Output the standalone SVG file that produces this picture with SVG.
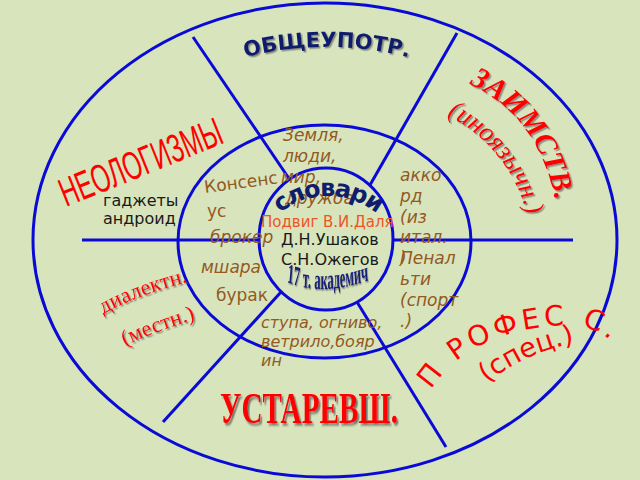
<svg xmlns="http://www.w3.org/2000/svg" width="640" height="480" viewBox="0 0 640 480">
<defs>
<style>
.ln{fill:none;stroke:#0a0ad6;stroke-width:3}
.bi{font-family:"DejaVu Sans",sans-serif;font-style:italic;fill:#93591f;font-size:17px}
.bu{font-family:"DejaVu Sans",sans-serif;fill:#93591f;font-size:17px}
.bk{font-family:"DejaVu Sans",sans-serif;fill:#1a1a1a;font-size:16px}
.nv{font-family:"DejaVu Sans",sans-serif;font-weight:bold;fill:#101c6c}
.rs{font-family:"DejaVu Sans",sans-serif;fill:#ff0000}
.rser{font-family:"Liberation Serif",serif;fill:#ff0000}
</style>
<filter id="sh" x="-20%" y="-20%" width="140%" height="140%">
<feDropShadow dx="1.5" dy="1.5" stdDeviation="0.7" flood-color="#666" flood-opacity="0.7"/>
</filter>
<filter id="sh2" x="-20%" y="-20%" width="140%" height="140%">
<feDropShadow dx="2.5" dy="2.5" stdDeviation="1" flood-color="#555" flood-opacity="0.75"/>
</filter>
<path id="pObs" d="M 235,60 Q 327,34 419,60"/>
<path id="pSlov" d="M 252,272 A 76,76 0 0 1 404,272"/>
<path id="pZaim" d="M 469,84 Q 540,116 557,208"/>
<path id="pIno" d="M 447,115 Q 515,150 531,230"/>
<path id="pProf" d="M 431,390 C 452,356 490,335 535,328 C 570,323 596,322 620,350"/>
<path id="pSpec" d="M 487,383 Q 528,350 582,342"/>
<path id="pDial" d="M 103,314 Q 142,293 192,281"/>
<path id="pMest" d="M 125,346 Q 158,330 200,318"/>
<path id="pAkad" d="M 637.8,282 Q 722,298 831.1,278"/>
</defs>
<rect x="0" y="0" width="640" height="480" fill="#d8e4bc"/>

<g id="connectors">
<ellipse class="ln" cx="325" cy="240" rx="292" ry="237"/>
<ellipse class="ln" cx="324.5" cy="241.5" rx="146.5" ry="116.5"/>
<ellipse class="ln" cx="326" cy="239" rx="67" ry="71"/>
<path class="ln" d="M82,240 H259"/>
<path class="ln" d="M393,240 H573"/>
<path class="ln" d="M193,37 L290,180"/>
<path class="ln" d="M457,33 L370,185"/>
<path class="ln" d="M281,292 L163,422"/>
<path class="ln" d="M357,302 L446,447"/>
</g>

<g id="obshcheupotr">
<text class="nv" font-size="21" filter="url(#sh)"><textPath href="#pObs" startOffset="50%" text-anchor="middle">ОБЩЕУПОТР.</textPath></text>
</g>

<g id="neologizmy">
<text class="rs" font-size="40" transform="translate(66,207) rotate(-22) scale(0.6,1)" style="font-family:'Liberation Sans',sans-serif">НЕОЛОГИЗМЫ</text>
<text class="bk" x="103" y="206">гаджеты</text>
<text class="bk" x="103" y="224">андроид</text>
</g>

<g id="zaimstv">
<text class="rser" font-size="30" font-weight="bold" font-style="italic" filter="url(#sh)"><textPath href="#pZaim">ЗАИМСТВ.</textPath></text>
<text class="rser" font-size="27" font-style="italic" filter="url(#sh)"><textPath href="#pIno">(иноязычн.)</textPath></text>
<text class="bi" x="400" y="181">акко</text>
<text class="bi" x="400" y="202">рд</text>
<text class="bi" x="400" y="223">(из</text>
<text class="bi" x="400" y="243">итал.</text>
<text class="bi" x="400" y="264">)</text>
<text class="bi" x="400" y="264">Пенал</text>
<text class="bi" x="400" y="285">ьти</text>
<text class="bi" x="400" y="306">(спорт</text>
<text class="bi" x="400" y="327">.)</text>
</g>

<g id="profess">
<text class="rs" font-size="28" letter-spacing="4"><textPath href="#pProf">П РОФЕС С.</textPath></text>
<text class="rs" font-size="27"><textPath href="#pSpec">(спец.)</textPath></text>
</g>

<g id="ustarevsh">
<text class="rser" font-size="45" font-weight="bold" transform="translate(220,423) scale(0.65,1)" filter="url(#sh2)">УСТАРЕВШ.</text>
<text class="bi" x="261" y="328" style="font-size:16px">ступа, огниво,</text>
<text class="bi" x="261" y="347" style="font-size:16px">ветрило,бояр</text>
<text class="bi" x="261" y="366" style="font-size:16px">ин</text>
</g>

<g id="dialektn">
<text class="rser" font-size="22" filter="url(#sh)"><textPath href="#pDial">диалектн.</textPath></text>
<text class="rser" font-size="22" filter="url(#sh)"><textPath href="#pMest">(местн.)</textPath></text>
<text class="bi" x="210" y="243">брокер</text>
<text class="bi" x="201" y="273">мшара</text>
<text class="bu" x="216" y="301">бурак</text>
</g>

<g id="middle-top">
<text class="bi" x="283" y="141">Земля,</text>
<text class="bi" x="283" y="162">люди,</text>
<text class="bi" x="281" y="183">мир,</text>
<text class="bi" x="285" y="204">дружба</text>
<text class="bu" transform="translate(205,193) rotate(-7.5)">Консенс</text>
<text class="bu" x="207" y="217">ус</text>
</g>

<g id="slovari">
<text class="nv" font-size="24" letter-spacing="-1.5"><textPath href="#pSlov" startOffset="50%" text-anchor="middle">словари</textPath></text>
<text x="261" y="227" font-family="DejaVu Sans, sans-serif" font-size="15" fill="#ee5526">Подвиг В.И.Даля</text>
<text class="bk" x="281" y="245">Д.Н.Ушаков</text>
<text class="bk" x="281" y="265">С.Н.Ожегов</text>
<g transform="scale(0.45,1)">
<text font-family="Liberation Serif, serif" font-weight="bold" font-size="28" fill="#16207a" filter="url(#sh)"><textPath href="#pAkad">17 т. академич</textPath></text>
</g>
</g>
</svg>
